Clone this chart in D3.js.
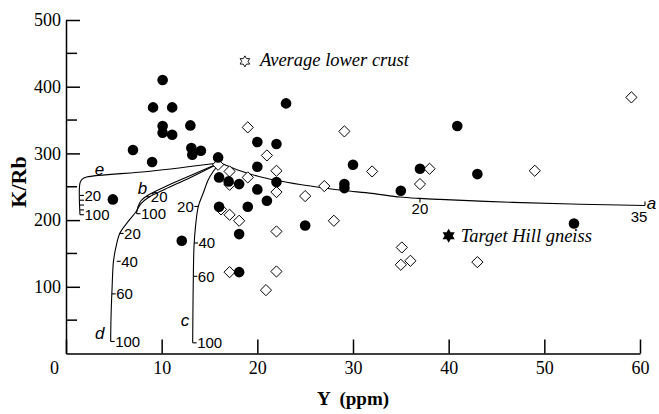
<!DOCTYPE html>
<html><head><meta charset="utf-8">
<script src="https://cdn.jsdelivr.net/npm/d3@7"></script>
<style>body{margin:0;background:#fff}</style>
</head><body>
<svg id="chart" width="659" height="414"></svg>
<script>
// ---- data ----
const xTickValues = [0, 10, 20, 30, 40, 50, 60];
const yTickValues = [100, 200, 300, 400, 500];
const yMinorTicks = [50, 150, 250, 350, 450];

// filled circles
const filledY   = [10.1, 9.1, 11.1, 10.1, 10.1, 11.1, 13.0, 7.0, 9.0, 13.1, 13.2, 14.1, 15.9, 16.0, 17.0, 18.1, 20.0, 20.0, 20.0, 21.0, 19.0, 16.0, 18.1, 12.1, 4.9, 18.1, 23.0, 22.0, 22.0, 25.0, 30.0, 29.1, 29.1, 37.0, 35.0, 40.9, 43.0, 53.1];
const filledKRb = [410, 369, 369, 341, 331, 328, 342, 305, 287, 308, 298, 304, 294, 264, 258, 254, 317, 280, 246, 229, 220, 220, 179, 169, 231, 122, 375, 314, 257, 192, 283, 254, 248, 277, 244, 341, 269, 195];
// open diamonds
const openY   = [19.0, 21.0, 15.9, 17.1, 17.1, 19.0, 16.2, 17.1, 18.1, 17.1, 20.9, 22.0, 22.0, 22.0, 22.0, 25.0, 27.0, 28.0, 29.1, 32.0, 37.0, 38.0, 35.1, 35.0, 36.0, 43.0, 49.0, 59.1];
const openKRb = [339, 297, 283, 273, 253, 264, 216, 208, 199, 122, 95, 274, 242, 183, 123, 236, 251, 199, 333, 273, 254, 277, 159, 133, 139, 137, 274, 384];

const lowerCrust = [18.7, 438];
const targetHill = [40.0, 176.6];

// mixing / assimilation curves
const curveA = [[16.1,286],[18.19,274.0],[20.07,265.7],[22.05,259.3],[24.46,253.3],[26.97,248.1],[29.06,244.3],[31.98,240.1],[34.91,234.6],[37.0,232.5],[39.09,231.0],[46.72,226.5],[53.73,223.8],[60.52,222.0]];
const curveB = [[16.1,286],[12.96,266.5],[10.35,250.0],[8.57,237.3],[7.84,229.0],[7.53,220.1],[7.37,209.6]];
const curveC = [[16.1,286],[15.37,272.5],[14.87,260.5],[14.35,240.6],[13.83,220.5],[13.54,190.6],[13.38,160.6],[13.31,115.7],[13.27,65.9],[13.24,16]];
const curveD = [[16.1,286],[12.96,263.5],[10.35,246.3],[8.57,233.5],[7.84,224.6],[7.32,212.6],[6.48,197.6],[5.64,180.7],[5.23,160.2],[4.96,137.7],[4.81,95.8],[4.7,50.9],[4.67,18]];
const curveE = [[16.1,286],[8.8,273.2],[2.16,264.5],[1.67,261.2],[1.46,255.5],[1.46,208.1]];

// tick marks on curves: [Y, K/Rb, label]
const ticksE = [[1.46,237,'20'],[1.46,229.8,''],[1.46,222.6,''],[1.46,215.3,'']];
const ticksB = [[8.4,235,'20']];
const ticksD = [[5.6,180,'20'],[5.3,138.2,'40'],[4.78,89.4,'60']];
const ticksCRight = [[13.38,165.7,'40'],[13.31,115.7,'60']];
const ticksCLeft = [[13.83,220.5,'20']];
const ticksA = [[37.0,232.5,'20']];
// curve ends: [Y, K/Rb, label]
const endsL = [[1.46,208.1,'100'],[7.37,209.6,'100'],[4.67,18,'100'],[13.24,16,'100']];
const endA = [60.52,222.0,'35'];
// curve letters: [Y, K/Rb, letter]
const curveLetters = [[3.5,268,'e'],[8.0,239,'b'],[12.45,41,'c'],[3.52,21,'d'],[61.2,216,'a']];

// ---- drawing ----
const svg = d3.select('#chart');
svg.append('rect').attr('width',659).attr('height',414).attr('fill','#fff');
const x = d3.scaleLinear().domain([0,60]).range([66,640]);
const y = d3.scaleLinear().domain([0,500]).range([353.5,20]);

const serif = '"Liberation Serif", "Times New Roman", serif';
const sans = '"Liberation Sans", Arial, sans-serif';

// x axis
const xa = svg.append('g').attr('transform','translate(0,353.5)')
  .call(d3.axisBottom(x).tickValues(xTickValues).tickSize(-14).tickSizeOuter(0).tickPadding(8));
xa.selectAll('text').attr('font-family',serif).attr('font-size',18).attr('fill','#000')
  .attr('dx', d => d===0 ? -12 : 0);
xa.selectAll('path,line').attr('stroke','#000').attr('stroke-width',1.5);

// y axis
const ya = svg.append('g').attr('transform','translate(66,0)')
  .call(d3.axisLeft(y).tickValues(yTickValues).tickSize(-14).tickSizeOuter(0).tickPadding(5));
ya.selectAll('text').attr('font-family',serif).attr('font-size',18).attr('fill','#000');
ya.selectAll('path,line').attr('stroke','#000').attr('stroke-width',1.5);
svg.append('g').selectAll('line').data(yMinorTicks).join('line')
  .attr('x1',66).attr('x2',77).attr('y1',d=>y(d)).attr('y2',d=>y(d))
  .attr('stroke','#000').attr('stroke-width',1.5);

// axis titles
svg.append('text').attr('transform','translate(26,182) rotate(-90)')
  .attr('text-anchor','middle').attr('font-family',serif).attr('font-weight','bold')
  .attr('font-size',22).text('K/Rb');
svg.append('text').attr('x',353).attr('y',405).attr('text-anchor','middle')
  .attr('font-family',serif).attr('font-weight','bold').attr('font-size',19)
  .attr('xml:space','preserve').style('white-space','pre').text('Y  (ppm)');

// curves
const line = d3.line().x(d=>x(d[0])).y(d=>y(d[1])).curve(d3.curveCatmullRom.alpha(0.5));
const cg = svg.append('g').attr('fill','none').attr('stroke','#000').attr('stroke-width',1.1);
[curveA, curveB, curveC, curveD, curveE].forEach(c => cg.append('path').attr('d', line(c)));

const lab = svg.append('g').attr('font-family',sans).attr('font-size',15);
function rightTicks(arr){
  arr.forEach(t=>{
    const X=x(t[0]), Y=y(t[1]);
    cg.append('line').attr('x1',X).attr('x2',X+4).attr('y1',Y).attr('y2',Y);
    if(t[2]) lab.append('text').attr('x',X+4.5).attr('y',Y+5.5).text(t[2]);
  });
}
rightTicks(ticksE); rightTicks(ticksB); rightTicks(ticksD); rightTicks(ticksCRight);
ticksCLeft.forEach(t=>{
  const X=x(t[0]), Y=y(t[1]);
  cg.append('line').attr('x1',X-4).attr('x2',X).attr('y1',Y).attr('y2',Y);
  lab.append('text').attr('x',X-4.5).attr('y',Y+5.5).attr('text-anchor','end').text(t[2]);
});
ticksA.forEach(t=>{
  const X=x(t[0]), Y=y(t[1]);
  cg.append('line').attr('x1',X).attr('x2',X).attr('y1',Y).attr('y2',Y+4);
  lab.append('text').attr('x',X).attr('y',Y+16).attr('text-anchor','middle').text(t[2]);
});
endsL.forEach(t=>{
  const X=x(t[0]), Y=y(t[1]);
  cg.append('line').attr('x1',X).attr('x2',X+4).attr('y1',Y).attr('y2',Y);
  lab.append('text').attr('x',X+4.5).attr('y',Y+5.5).text(t[2]);
});
{
  const X=x(endA[0]), Y=y(endA[1]);
  cg.append('line').attr('x1',X).attr('x2',X).attr('y1',Y).attr('y2',Y-4);
  lab.append('text').attr('x',X-6).attr('y',Y+17).attr('text-anchor','middle').text(endA[2]);
}
svg.append('g').attr('font-family',sans).attr('font-style','italic').attr('font-size',17)
  .selectAll('text').data(curveLetters).join('text')
  .attr('x',d=>x(d[0])).attr('y',d=>y(d[1])).attr('text-anchor','middle').text(d=>d[2]);

// points
const diamond = 'M0,-5.6L5.6,0L0,5.6L-5.6,0Z';
svg.append('g').selectAll('path').data(openY).join('path')
  .attr('transform',(d,i)=>`translate(${x(d)},${y(openKRb[i])})`)
  .attr('d',diamond).attr('fill','#fff').attr('stroke','#000').attr('stroke-width',1);
svg.append('g').selectAll('circle').data(filledY).join('circle')
  .attr('cx',d=>x(d)).attr('cy',(d,i)=>y(filledKRb[i])).attr('r',5.3).attr('fill','#000');

// hexagram stars
function hexStar(R){
  const r = R/Math.sqrt(3), pts=[];
  for(let k=0;k<12;k++){
    const a = -Math.PI/2 + k*Math.PI/6, rr = k%2===0 ? R : r;
    pts.push([rr*Math.cos(a), rr*Math.sin(a)]);
  }
  return 'M'+pts.map(p=>p[0].toFixed(2)+','+p[1].toFixed(2)).join('L')+'Z';
}
svg.append('path').attr('transform',`translate(${x(lowerCrust[0])},${y(lowerCrust[1])})`)
  .attr('d',hexStar(5.5)).attr('fill','#fff').attr('stroke','#000').attr('stroke-width',0.9);
svg.append('path').attr('transform',`translate(${x(targetHill[0])},${y(targetHill[1])})`)
  .attr('d',hexStar(7)).attr('fill','#000');

const ann = svg.append('g').attr('font-family',serif).attr('font-style','italic').attr('font-size',18.5);
ann.append('text').attr('x',x(lowerCrust[0])+15).attr('y',y(lowerCrust[1])+5).text('Average lower crust');
ann.append('text').attr('x',x(targetHill[0])+12).attr('y',y(targetHill[1])+6).text('Target Hill gneiss');
</script>
</body></html>
